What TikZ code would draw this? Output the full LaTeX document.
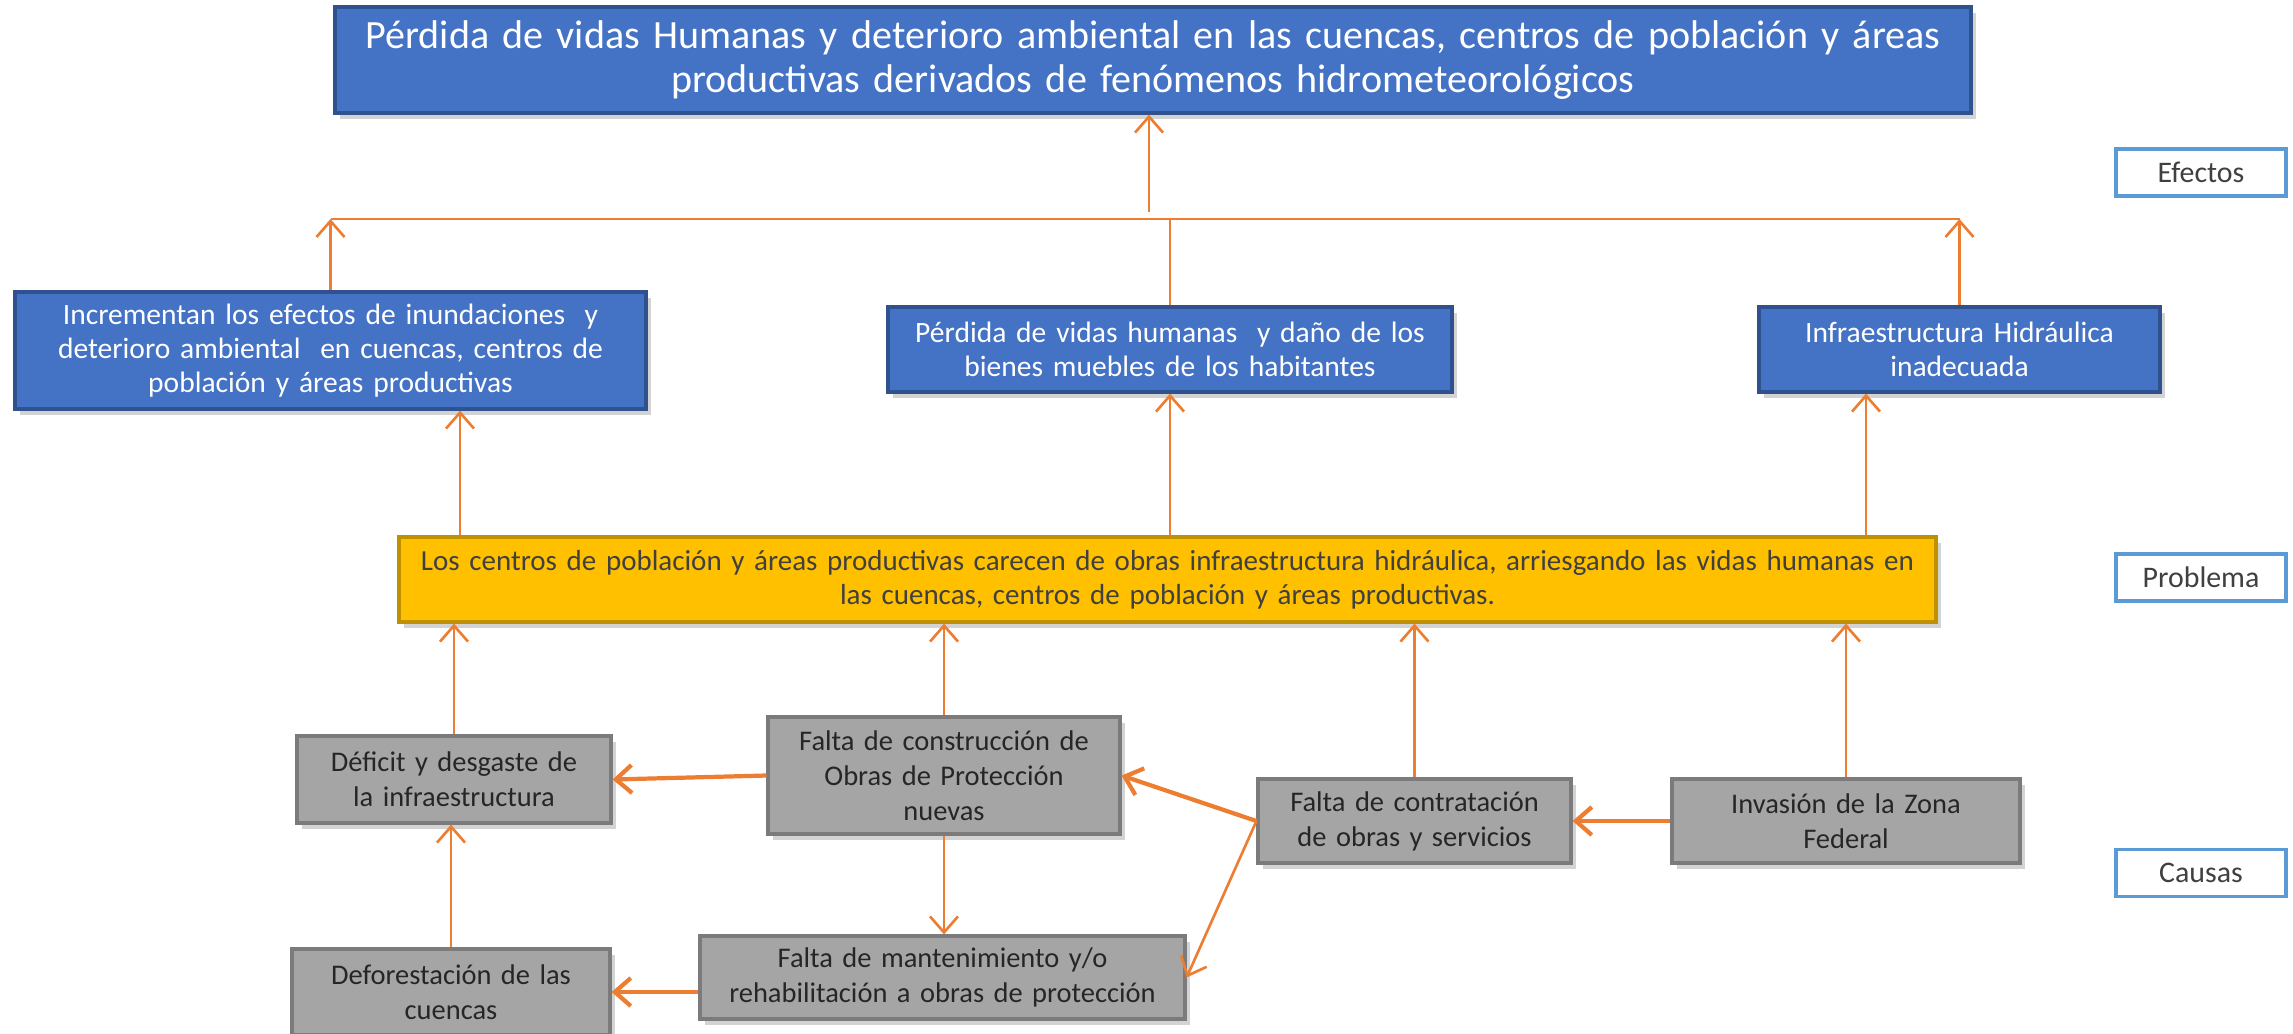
\documentclass[tikz,border=0pt]{standalone}
\usepackage{fontspec}
\setmainfont{Carlito}
\usepackage{tikz}
\usetikzlibrary{arrows.meta,shadows}
\definecolor{efblue}{HTML}{4472C4}
\definecolor{efline}{HTML}{2F528F}
\definecolor{probfill}{HTML}{FFC000}
\definecolor{probline}{HTML}{BF9000}
\definecolor{causefill}{HTML}{A5A5A5}
\definecolor{causeline}{HTML}{7B7B7B}
\definecolor{arrowcol}{HTML}{ED7D31}
\definecolor{tagline}{HTML}{5B9BD5}
\definecolor{txtgray}{HTML}{404040}

\begin{document}
\begin{tikzpicture}[
  box/.style={draw, line width=0.9pt, align=center, inner sep=0pt,
    drop shadow={opacity=0.35, shadow xshift=0.05cm, shadow yshift=-0.06cm}},
  efecto/.style={box, fill=efblue, draw=efline, text=white,
    font=\fontsize{8.4}{9.6}\selectfont},
  problema/.style={box, fill=probfill, draw=probline, text=txtgray,
    font=\fontsize{8.25}{9.6}\selectfont},
  causa/.style={box, fill=causefill, draw=causeline, text=black!85,
    font=\fontsize{8.1}{10}\selectfont},
  tag/.style={draw=tagline, line width=0.9pt, fill=white, text=txtgray,
    minimum width=1.7cm, minimum height=0.47cm, inner sep=0pt,
    font=\fontsize{8.5}{9.5}\selectfont},
  conn/.style={draw=arrowcol, line width=0.75pt},
  arr/.style={conn, -{Straight Barb[length=1.6mm,width=2.8mm]}},
  thickarr/.style={arr, line width=1.2pt}
]
  \useasboundingbox (0,0) rectangle (22.93,-10.33);

  % efectos
  \node[efecto, minimum width=16.36cm, minimum height=1.06cm, text width=16.2cm,
    font=\fontsize{11.4}{12.6}\selectfont] (top) at (11.53,-0.60)
    {P\'erdida de vidas Humanas y deterioro ambiental en las cuencas, centros de poblaci\'on y \'areas\\
     productivas derivados de fen\'omenos hidrometeorol\'ogicos};
  \node[efecto, minimum width=6.31cm, minimum height=1.17cm, text width=6.2cm] (e1) at (3.305,-3.505)
    {Incrementan los efectos de inundaciones\ \ y\\ deterioro ambiental\ \ en cuencas, centros de\\ poblaci\'on y \'areas productivas};
  \node[efecto, minimum width=5.64cm, minimum height=0.85cm, text width=5.5cm] (e2) at (11.70,-3.495)
    {P\'erdida de vidas humanas\ \ y da\~no de los\\ bienes muebles de los habitantes};
  \node[efecto, minimum width=4.01cm, minimum height=0.85cm, text width=3.9cm] (e3) at (19.595,-3.495)
    {Infraestructura Hidr\'aulica\\ inadecuada};

  % problema
  \node[problema, minimum width=15.37cm, minimum height=0.85cm, text width=15.3cm] (prob) at (11.675,-5.795)
    {Los centros de poblaci\'on y \'areas productivas carecen de obras infraestructura hidr\'aulica, arriesgando las vidas humanas en\\
     las cuencas, centros de poblaci\'on y \'areas productivas.};

  % causas
  \node[causa, minimum width=3.14cm, minimum height=0.87cm, text width=3.05cm] (def) at (4.54,-7.795)
    {D\'eficit y desgaste de\\ la infraestructura};
  \node[causa, minimum width=3.52cm, minimum height=1.17cm, text width=3.45cm] (cons) at (9.44,-7.755)
    {Falta de construcci\'on de\\ Obras de Protecci\'on\\ nuevas};
  \node[causa, minimum width=3.13cm, minimum height=0.84cm, text width=3.05cm] (contr) at (14.145,-8.21)
    {Falta de contrataci\'on\\ de obras y servicios};
  \node[causa, minimum width=3.48cm, minimum height=0.84cm, text width=3.4cm] (inv) at (18.46,-8.21)
    {Invasi\'on de la Zona\\ Federal};
  \node[causa, minimum width=3.18cm, minimum height=0.86cm, text width=3.1cm] (defo) at (4.51,-9.92)
    {Deforestaci\'on de las\\ cuencas};
  \node[causa, minimum width=4.85cm, minimum height=0.83cm, text width=4.8cm] (mant) at (9.425,-9.775)
    {Falta de mantenimiento y/o\\ rehabilitaci\'on a obras de protecci\'on};

  % etiquetas
  \node[tag] (tagE) at (22.01,-1.725) {Efectos};
  \node[tag] (tagP) at (22.01,-5.775) {Problema};
  \node[tag] (tagC) at (22.01,-8.73) {Causas};

  % conectores efectos
  \coordinate (bus) at (11.49,-2.19);
  \coordinate (busup) at (11.49,-2.12);
  \draw[conn] (e1.north |- bus) -- (e3.north |- bus);
  \draw[arr] (e1.north) -- (e1.north |- bus);
  \draw[arr] (e3.north) -- (e3.north |- bus);
  \draw[conn] (e2.north) -- (e2.north |- bus);
  \draw[arr] (busup) -- (busup |- top.south);

  \draw[arr] ([xshift=0.06cm]prob.north -| def.north) -- ([xshift=0.06cm]e1.south -| def.north);
  \draw[arr] (prob.north -| e2.south) -- (e2.south);
  \draw[arr] ([xshift=0.2cm]prob.north -| inv.north) -- ([xshift=0.2cm]e3.south -| inv.north);

  % conectores causas
  \draw[arr] (def.north) -- (def.north |- prob.south);
  \draw[arr] (cons.north) -- (cons.north |- prob.south);
  \draw[arr] (contr.north) -- (contr.north |- prob.south);
  \draw[arr] (inv.north) -- (inv.north |- prob.south);
  \draw[thickarr] (cons.west) -- (def.east);
  \draw[arr] (cons.south) -- (cons.south |- mant.north);
  \draw[arr] (defo.north) -- (defo.north |- def.south);
  \draw[thickarr] (mant.west |- defo.east) -- (defo.east);
  \draw[thickarr] (inv.west) -- (contr.east);
  \draw[thickarr] (contr.west) -- (cons.east);
  \draw[arr] (contr.west) -- (mant.east);
\end{tikzpicture}
\end{document}
